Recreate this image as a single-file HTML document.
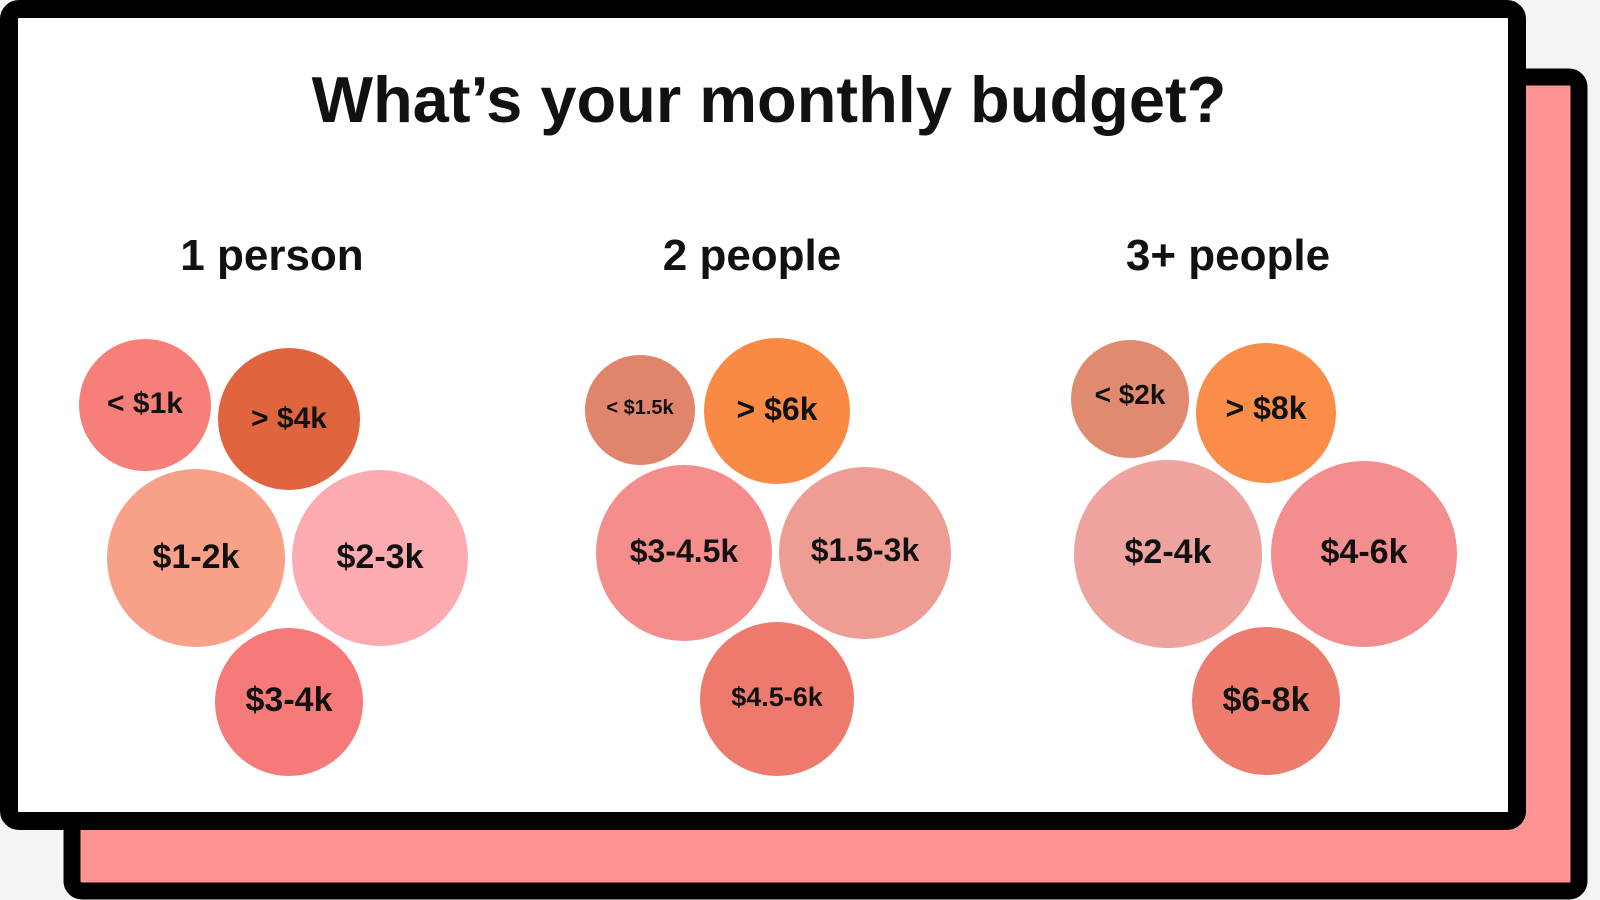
<!DOCTYPE html>
<html><head><meta charset="utf-8"><style>
body{margin:0;width:1600px;height:900px;background:#f4f4f4;overflow:hidden;font-family:"Liberation Sans",sans-serif}
</style></head><body>
<svg width="1600" height="900" xmlns="http://www.w3.org/2000/svg" style="position:absolute;left:0;top:0">
<rect x="72" y="77" width="1507" height="814" rx="10" fill="#fd9393" stroke="#000" stroke-width="17"/>
<rect x="9" y="9" width="1508" height="812" rx="10" fill="#fff" stroke="#000" stroke-width="18"/>
<g font-family="Liberation Sans, sans-serif" font-weight="bold" text-anchor="middle" fill="#111">
<text x="769" y="122" font-size="65">What’s your monthly budget?</text>
<text x="272" y="270" font-size="44">1 person</text>
<text x="752" y="270" font-size="44">2 people</text>
<text x="1228" y="270" font-size="44">3+ people</text>
</g>
<g>
<circle cx="145" cy="405" r="66" fill="#f77f7a"/>
<circle cx="289" cy="419" r="71" fill="#e0653e"/>
<circle cx="196" cy="558" r="89" fill="#f9a088"/>
<circle cx="380" cy="558" r="88" fill="#fcacb0"/>
<circle cx="289" cy="702" r="74" fill="#f77a7a"/>
<circle cx="640" cy="410" r="55" fill="#e0856b"/>
<circle cx="777" cy="411" r="73" fill="#f98a45"/>
<circle cx="684" cy="553" r="88" fill="#f68d8d"/>
<circle cx="865" cy="553" r="86" fill="#ee9d95"/>
<circle cx="777" cy="699" r="77" fill="#ee7a6d"/>
<circle cx="1130" cy="399" r="59" fill="#e08a70"/>
<circle cx="1266" cy="413" r="70" fill="#f98d49"/>
<circle cx="1168" cy="554" r="94" fill="#efa39e"/>
<circle cx="1364" cy="554" r="93" fill="#f48d8d"/>
<circle cx="1266" cy="701" r="74" fill="#ee7c6e"/>
</g>
<g font-family="Liberation Sans, sans-serif" font-weight="bold" text-anchor="middle" fill="#111">
<text x="145" y="413" font-size="30">&lt; $1k</text>
<text x="289" y="428" font-size="30">&gt; $4k</text>
<text x="196" y="568" font-size="34">$1-2k</text>
<text x="380" y="568" font-size="34">$2-3k</text>
<text x="289" y="711" font-size="34">$3-4k</text>
<text x="640" y="414" font-size="20">&lt; $1.5k</text>
<text x="777" y="420" font-size="32">&gt; $6k</text>
<text x="684" y="562" font-size="32">$3-4.5k</text>
<text x="865" y="561" font-size="32">$1.5-3k</text>
<text x="777" y="706" font-size="27">$4.5-6k</text>
<text x="1130" y="404" font-size="28">&lt; $2k</text>
<text x="1266" y="419" font-size="32">&gt; $8k</text>
<text x="1168" y="563" font-size="34">$2-4k</text>
<text x="1364" y="563" font-size="34">$4-6k</text>
<text x="1266" y="711" font-size="34">$6-8k</text>
</g>
</svg>
</body></html>
